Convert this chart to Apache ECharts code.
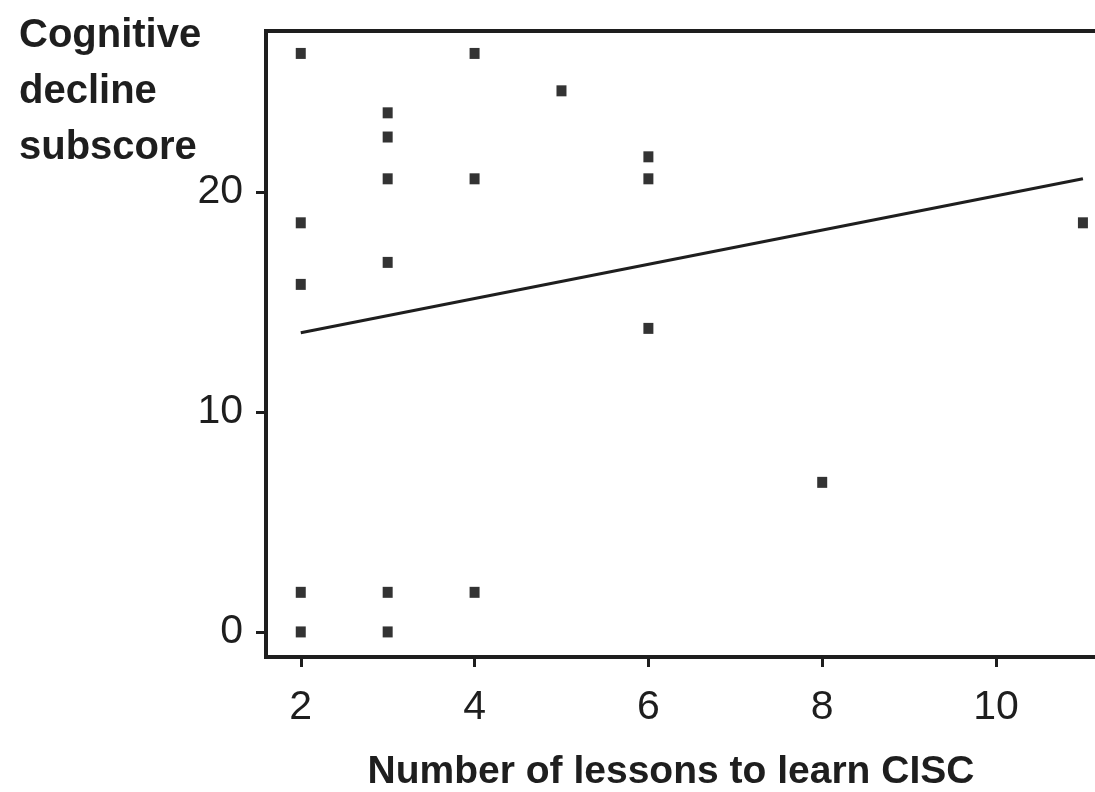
<!DOCTYPE html>
<html>
<head>
<meta charset="utf-8">
<script src="https://cdn.jsdelivr.net/npm/echarts@6/dist/echarts.min.js"></script>
<style>
html,body{margin:0;padding:0;background:#fff;}
#chart{width:1095px;height:792px;}
</style>
</head>
<body>
<div id="chart"></div>
<script>
// Data
var lessons = [2, 2, 2, 2, 2, 3, 3, 3, 3, 3, 3, 4, 4, 4, 5, 6, 6, 6, 8, 11];
var subscores = [26.3, 18.6, 15.8, 1.8, 0, 23.6, 22.5, 20.6, 16.8, 1.8, 0, 26.3, 20.6, 1.8, 24.6, 21.6, 20.6, 13.8, 6.8, 18.6];
var fitX = [2, 11];
var fitY = [13.6, 20.6];
var xTicks = [2, 4, 6, 8, 10];
var yTicks = [0, 10, 20];
var xTitle = 'Number of lessons to learn CISC';
var yTitle = 'Cognitive\ndecline\nsubscore';

var points = lessons.map(function (x, i) { return [x, subscores[i]]; });
var fitLine = fitX.map(function (x, i) { return [x, fitY[i]]; });

var FONT = '"Liberation Sans", Arial, sans-serif';
var INK = '#1e1e1e';

var chart = echarts.init(document.getElementById('chart'), null, {renderer: 'canvas'});
chart.setOption({
  animation: false,
  backgroundColor: '#ffffff',
  title: {
    text: yTitle,
    left: 14,
    top: 3,
    textStyle: {
      fontFamily: FONT,
      fontWeight: 'bold',
      fontSize: 40,
      lineHeight: 56,
      color: INK
    }
  },
  grid: {
    left: 266,
    top: 31,
    width: 843,
    height: 626,
    show: true,
    borderWidth: 4,
    borderColor: INK,
    outerBoundsMode: 'none',
    containLabel: false
  },
  xAxis: {
    type: 'value',
    min: 1.6,
    max: 11.3,
    name: xTitle,
    nameLocation: 'middle',
    nameGap: 96,
    nameTextStyle: {
      fontFamily: FONT,
      fontWeight: 'bold',
      fontSize: 39,
      color: INK,
      padding: [0, 33, 0, 0]
    },
    axisLine: {show: true, onZero: false, lineStyle: {color: INK, width: 4}},
    axisTick: {show: true, inside: false, length: 10, customValues: xTicks, lineStyle: {color: INK, width: 3}},
    axisLabel: {customValues: xTicks, margin: 30, fontFamily: FONT, fontSize: 41, color: INK},
    splitLine: {show: false}
  },
  yAxis: {
    type: 'value',
    min: -1.14,
    max: 27.32,
    axisLine: {show: true, onZero: false, lineStyle: {color: INK, width: 4}},
    axisTick: {show: true, inside: false, length: 10, customValues: yTicks, lineStyle: {color: INK, width: 3}},
    axisLabel: {customValues: yTicks, margin: 23, fontFamily: FONT, fontSize: 41, color: INK},
    splitLine: {show: false}
  },
  series: [
    {
      type: 'line',
      data: fitLine,
      symbol: 'none',
      lineStyle: {color: INK, width: 3},
      silent: true,
      z: 2
    },
    {
      type: 'scatter',
      data: points,
      symbol: 'rect',
      symbolSize: [10, 11],
      itemStyle: {color: '#000000'},
      z: 3
    }
  ]
});
</script>
</body>
</html>
